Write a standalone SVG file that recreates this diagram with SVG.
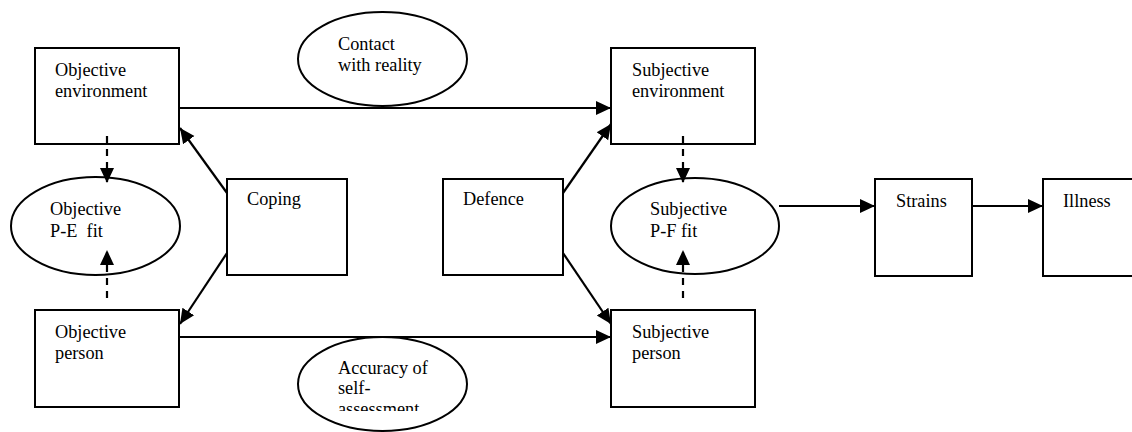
<svg xmlns="http://www.w3.org/2000/svg" width="1132" height="432" viewBox="0 0 1132 432">
<style>
.box{fill:#fff;stroke:#000;stroke-width:2}
.ell{fill:#fff;stroke:#000;stroke-width:2}
text{font-family:'Liberation Serif','Times New Roman',Times,serif;font-size:18.3px;fill:#000}
.c{stroke:#000;stroke-width:2.2;fill:none}
.d{stroke:#000;stroke-width:2.2;fill:none;stroke-dasharray:7,6}
</style>
<defs>
<marker id="ah" markerUnits="userSpaceOnUse" markerWidth="16" markerHeight="16" viewBox="0 0 16 16" refX="15" refY="8" orient="auto">
<path d="M0,1 L15,8 L0,15 Z" fill="#000"/>
</marker>
<clipPath id="clipAcc"><rect x="0" y="0" width="1132" height="411"/></clipPath>
</defs>
<g font-family="Liberation Serif, Times New Roman, serif">
<g id="contact">
<ellipse class="ell" cx="382.5" cy="59" rx="84.5" ry="47"/>
<text x="338" y="50">Contact</text>
<text x="338" y="71">with reality</text>
</g>
<g id="accuracy">
<ellipse class="ell" cx="382.5" cy="384" rx="84.5" ry="47"/>
<text x="338" y="374">Accuracy of</text>
<text x="338" y="394">self-</text>
<text x="338" y="415" clip-path="url(#clipAcc)">assessment</text>
</g>
<g id="objective-environment">
<rect class="box" x="35" y="48" width="144" height="96"/>
<text x="55" y="76">Objective</text>
<text x="55" y="97">environment</text>
</g>
<g id="objective-pe-fit">
<ellipse class="ell" cx="95.5" cy="226" rx="84.5" ry="49"/>
<text x="50" y="215">Objective</text>
<text x="50" y="237" xml:space="preserve">P-E  fit</text>
</g>
<g id="objective-person">
<rect class="box" x="35" y="310" width="144" height="97"/>
<text x="55" y="338">Objective</text>
<text x="55" y="359">person</text>
</g>
<g id="coping">
<rect class="box" x="227" y="179" width="120" height="96"/>
<text x="247" y="205">Coping</text>
</g>
<g id="defence">
<rect class="box" x="443" y="179" width="120" height="96"/>
<text x="463" y="205">Defence</text>
</g>
<g id="subjective-environment">
<rect class="box" x="611" y="48" width="144" height="96"/>
<text x="632" y="76">Subjective</text>
<text x="632" y="97">environment</text>
</g>
<g id="subjective-pf-fit">
<ellipse class="ell" cx="695" cy="226" rx="84" ry="48"/>
<text x="650" y="215">Subjective</text>
<text x="650" y="237">P-F fit</text>
</g>
<g id="subjective-person">
<rect class="box" x="611" y="310" width="144" height="97"/>
<text x="632" y="338">Subjective</text>
<text x="632" y="359">person</text>
</g>
<g id="strains">
<rect class="box" x="875" y="179" width="97" height="97"/>
<text x="896" y="207">Strains</text>
</g>
<g id="illness">
<rect class="box" x="1043" y="179" width="100" height="97"/>
<text x="1063" y="207">Illness</text>
</g>
</g>
<g id="connectors">
<line class="c" x1="179" y1="108" x2="611" y2="108" marker-end="url(#ah)"/>
<line class="c" x1="179" y1="337" x2="611" y2="337" marker-end="url(#ah)"/>
<line class="c" x1="227" y1="193" x2="180" y2="128" marker-end="url(#ah)"/>
<line class="c" x1="227" y1="253" x2="180" y2="324" marker-end="url(#ah)"/>
<line class="c" x1="563" y1="193" x2="611" y2="124" marker-end="url(#ah)"/>
<line class="c" x1="563" y1="253" x2="611" y2="324" marker-end="url(#ah)"/>
<line class="c" x1="779" y1="206" x2="875" y2="206" marker-end="url(#ah)"/>
<line class="c" x1="972" y1="206" x2="1043" y2="206" marker-end="url(#ah)"/>
<line class="d" x1="107" y1="136" x2="107" y2="183" marker-end="url(#ah)"/>
<line class="d" x1="107" y1="298" x2="107" y2="250" marker-end="url(#ah)"/>
<line class="d" x1="683" y1="136" x2="683" y2="183" marker-end="url(#ah)"/>
<line class="d" x1="683" y1="298" x2="683" y2="250" marker-end="url(#ah)"/>
</g>
</svg>
